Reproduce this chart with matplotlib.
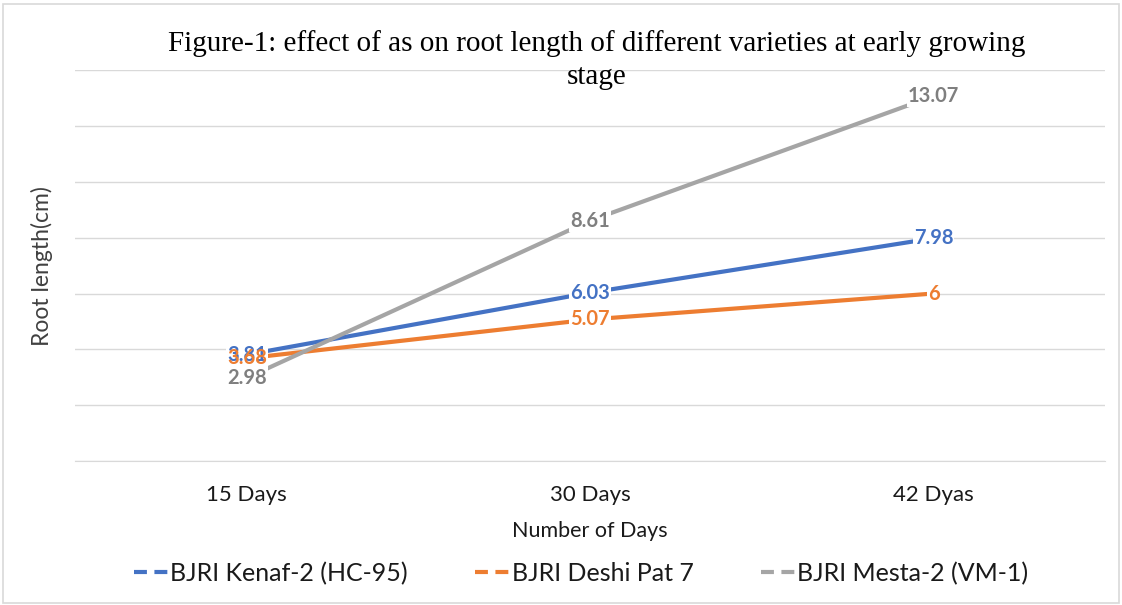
import numpy as np
import matplotlib.pyplot as plt
from matplotlib.lines import Line2D
from matplotlib.patches import Rectangle

# data
days = ["15 Days", "30 Days", "42 Dyas"]
kenaf = [3.81, 6.03, 7.98]
deshi = [3.68, 5.07, 6]
mesta = [2.98, 8.61, 13.07]
names = ["BJRI Kenaf-2 (HC-95)", "BJRI Deshi Pat 7", "BJRI Mesta-2 (VM-1)"]
colors = ["#4472C4", "#ED7D31", "#A5A5A5"]
label_colors = ["#4472C4", "#ED7D31", "#7F7F7F"]

plt.rcParams['font.family'] = ['Lato', 'DejaVu Sans']

fig = plt.figure(figsize=(11.22, 6.05), dpi=100)
fig.patches.append(Rectangle((0.003, 0.003), 0.994, 0.99, transform=fig.transFigure,
                             fill=False, edgecolor="#D9D9D9", lw=1.2))
ax = fig.add_axes([0.067, 0.238, 0.918, 0.646])

x = np.arange(len(days))
for vals, c, lc in zip([kenaf, deshi, mesta], colors, label_colors):
    ax.plot(x, vals, color=c, lw=3, solid_capstyle="round", zorder=3)
    for xi, v in zip(x, vals):
        # white box behind label (drawn under all label texts)
        ax.text(xi, v, f"{v:g}", color="none", fontsize=14.5, fontweight="bold",
                ha="center", va="center", zorder=4,
                bbox=dict(boxstyle="square,pad=0.05", fc="white", ec="none"))
        ax.text(xi, v, f"{v:g}", color=lc, fontsize=14.5, fontweight="bold",
                ha="center", va="center", zorder=5)

ax.set_xlim(-0.5, 2.5)
ax.set_ylim(0, 14)
ax.set_yticks(np.arange(0, 15, 2))
ax.yaxis.grid(True, color="#D9D9D9", lw=1)
ax.set_axisbelow(True)
ax.tick_params(left=False, labelleft=False, bottom=False, labelsize=16, pad=14,
               labelcolor="#1a1a1a")
ax.set_xticks(x)
ax.set_xticklabels(days)
for s in ["top", "right", "left"]:
    ax.spines[s].set_visible(False)
ax.spines["bottom"].set_color("#D9D9D9")

ax.set_xlabel("Number of Days", fontsize=15.5, labelpad=11, color="#1a1a1a")
ax.set_ylabel("Root length(cm)", fontsize=16.5, labelpad=16, color="#404040")

fig.text(0.532, 0.9, "Figure-1: effect of as on root length of different varieties at early growing\nstage",
         ha="center", va="center", fontsize=21, family="Liberation Serif", linespacing=1.35)

handles = [Line2D([0], [0], color=c, lw=3, ls=(0, (3.1, 1.8))) for c in colors]
fig.legend(handles, names, loc="center", bbox_to_anchor=(0.518, 0.052), ncol=3,
           frameon=False, fontsize=18, handlelength=1.4, handletextpad=0.05,
           columnspacing=2.7, labelcolor="#1a1a1a")

fig.savefig("out.png", dpi=100)
